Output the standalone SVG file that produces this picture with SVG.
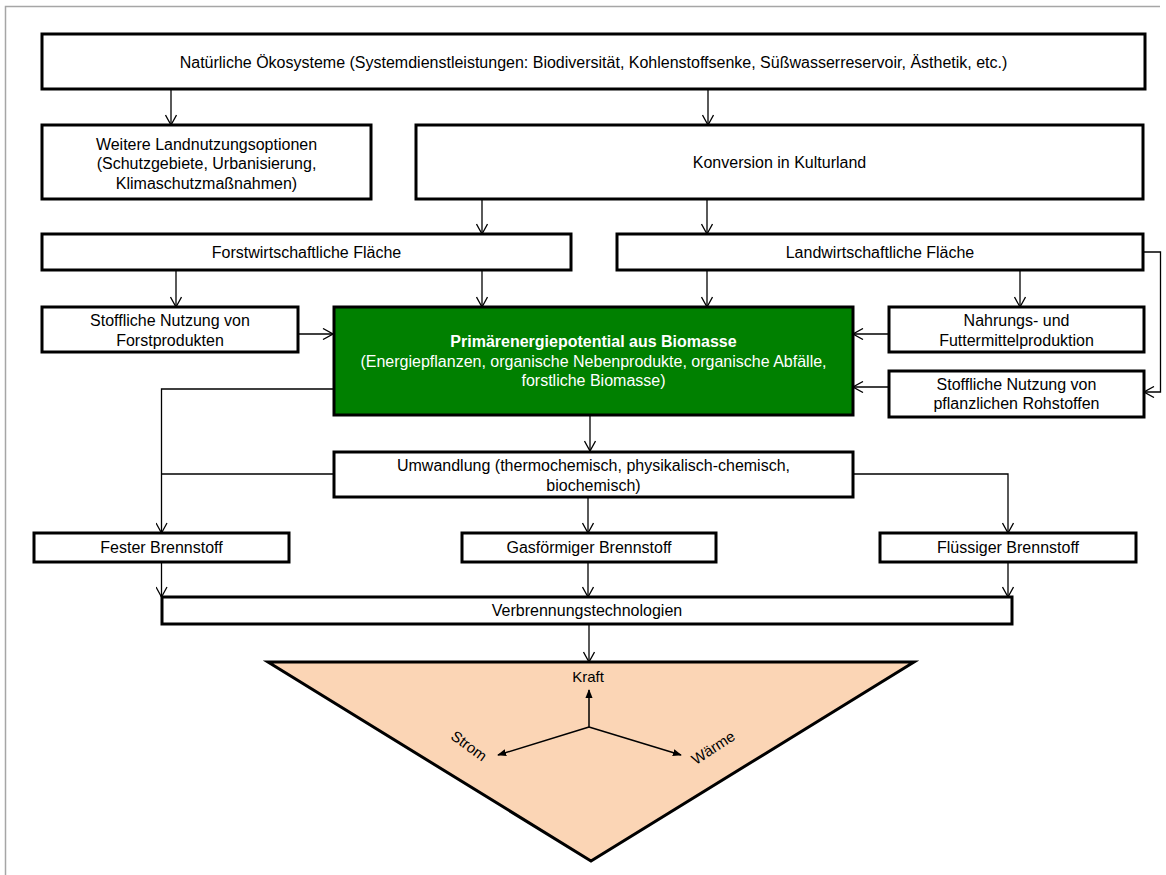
<svg xmlns="http://www.w3.org/2000/svg" width="1166" height="875" viewBox="0 0 1166 875">
<defs>
<marker id="arr" viewBox="0 0 12 12" refX="11" refY="6" markerWidth="12" markerHeight="12" markerUnits="userSpaceOnUse" orient="auto">
<path d="M1,0.5 L11,6 L1,11.5" fill="none" stroke="#000" stroke-width="1.3"/>
</marker>
<marker id="fill" viewBox="0 0 10 10" refX="9" refY="5" markerWidth="9" markerHeight="9" markerUnits="userSpaceOnUse" orient="auto">
<path d="M0,1 L10,5 L0,9 Z" fill="#000"/>
</marker>
</defs>
<style>
.box{fill:#fff;stroke:#000;stroke-width:3}
.green{fill:#008000;stroke:#000;stroke-width:3}
.tri{fill:#FBD5B5;stroke:#000;stroke-width:3;stroke-linejoin:miter}
text{font-family:"Liberation Sans",Arial,sans-serif;font-size:16px;fill:#000;text-anchor:middle}
.w{fill:#fff}
.b{font-weight:bold}
.c{fill:none;stroke:#000;stroke-width:1.3}
.ca{fill:none;stroke:#000;stroke-width:1.3;marker-end:url(#arr)}
.cf{fill:none;stroke:#000;stroke-width:1.5;marker-end:url(#fill)}
</style>
<path d="M5.5,875 V6.5 H1160" fill="none" stroke="#a6a6a6" stroke-width="1.5"/>
<g id="connectors">
<path class="ca" d="M171,89 V125"/>
<path class="ca" d="M708,89 V125"/>
<path class="ca" d="M482,199 V234"/>
<path class="ca" d="M707,199 V234"/>
<path class="ca" d="M176,270 V307"/>
<path class="ca" d="M482,270 V307"/>
<path class="ca" d="M707,270 V307"/>
<path class="ca" d="M1020,270 V307"/>
<path class="ca" d="M1143,252 H1160.5 V392 H1144"/>
<path class="ca" d="M298,334 H333"/>
<path class="ca" d="M889,334 H853"/>
<path class="ca" d="M889,387 H853"/>
<path class="ca" d="M333,389 H161.5 V533"/>
<path class="c" d="M333,474 H161.5"/>
<path class="ca" d="M853,474 H1008 V533"/>
<path class="ca" d="M590,415 V451"/>
<path class="ca" d="M588,497 V533"/>
<path class="ca" d="M161.5,562 V597"/>
<path class="ca" d="M588,562 V597"/>
<path class="ca" d="M1008,562 V597"/>
<path class="ca" d="M589,624 V662"/>
</g>
<g id="n_top"><rect class="box" x="42" y="34" width="1103" height="55"/>
<text x="593.5" y="67.5">Natürliche Ökosysteme (Systemdienstleistungen: Biodiversität, Kohlenstoffsenke, Süßwasserreservoir, Ästhetik, etc.)</text></g>
<g id="n_weitere"><rect class="box" x="42" y="125" width="329" height="74"/>
<text x="206.5" y="149.5">Weitere Landnutzungsoptionen</text>
<text x="206.5" y="169">(Schutzgebiete, Urbanisierung,</text>
<text x="206.5" y="188.5">Klimaschutzmaßnahmen)</text></g>
<g id="n_konversion"><rect class="box" x="416" y="125" width="727" height="74"/>
<text x="779.5" y="167.5">Konversion in Kulturland</text></g>
<g id="n_forst"><rect class="box" x="42" y="234" width="529" height="36"/>
<text x="306.5" y="257.5">Forstwirtschaftliche Fläche</text></g>
<g id="n_landw"><rect class="box" x="617" y="234" width="526" height="36"/>
<text x="880" y="257.5">Landwirtschaftliche Fläche</text></g>
<g id="n_stoff_forst"><rect class="box" x="42" y="307" width="256" height="45"/>
<text x="170" y="326">Stoffliche Nutzung von</text>
<text x="170" y="346">Forstprodukten</text></g>
<g id="n_primaer"><rect class="green" x="334" y="307" width="519" height="108"/>
<text class="w b" x="593.5" y="347">Primärenergiepotential aus Biomasse</text>
<text class="w" x="593.5" y="366.5">(Energiepflanzen, organische Nebenprodukte, organische Abfälle,</text>
<text class="w" x="593.5" y="386">forstliche Biomasse)</text></g>
<g id="n_nahrung"><rect class="box" x="889" y="307" width="255" height="45"/>
<text x="1016.5" y="326">Nahrungs- und</text>
<text x="1016.5" y="346">Futtermittelproduktion</text></g>
<g id="n_stoff_pfl"><rect class="box" x="889" y="371" width="255" height="46"/>
<text x="1016.5" y="389.5">Stoffliche Nutzung von</text>
<text x="1016.5" y="409">pflanzlichen Rohstoffen</text></g>
<g id="n_umwandlung"><rect class="box" x="334" y="452" width="519" height="45"/>
<text x="593.5" y="471">Umwandlung (thermochemisch, physikalisch-chemisch,</text>
<text x="593.5" y="491">biochemisch)</text></g>
<g id="n_fest"><rect class="box" x="34" y="533" width="255" height="29"/>
<text x="161.5" y="553">Fester Brennstoff</text></g>
<g id="n_gas"><rect class="box" x="462" y="533" width="254" height="29"/>
<text x="589" y="553">Gasförmiger Brennstoff</text></g>
<g id="n_fluessig"><rect class="box" x="880" y="533" width="256" height="29"/>
<text x="1008" y="553">Flüssiger Brennstoff</text></g>
<g id="n_verbrennung"><rect class="box" x="162" y="597" width="850" height="27"/>
<text x="587" y="616">Verbrennungstechnologien</text></g>
<g id="n_triangle"><polygon class="tri" points="268,662 914,662 591,861"/>
<path class="cf" d="M589,727 V690"/>
<path class="cf" d="M589,727 L498,755"/>
<path class="cf" d="M589,727 L681,755"/>
<text x="588" y="682" style="font-size:15px">Kraft</text>
<text x="0" y="0" style="font-size:15px" transform="translate(466,750) rotate(36)">Strom</text>
<text x="0" y="0" style="font-size:15px" transform="translate(716,752) rotate(-33)">Wärme</text>
</g>
</svg>
